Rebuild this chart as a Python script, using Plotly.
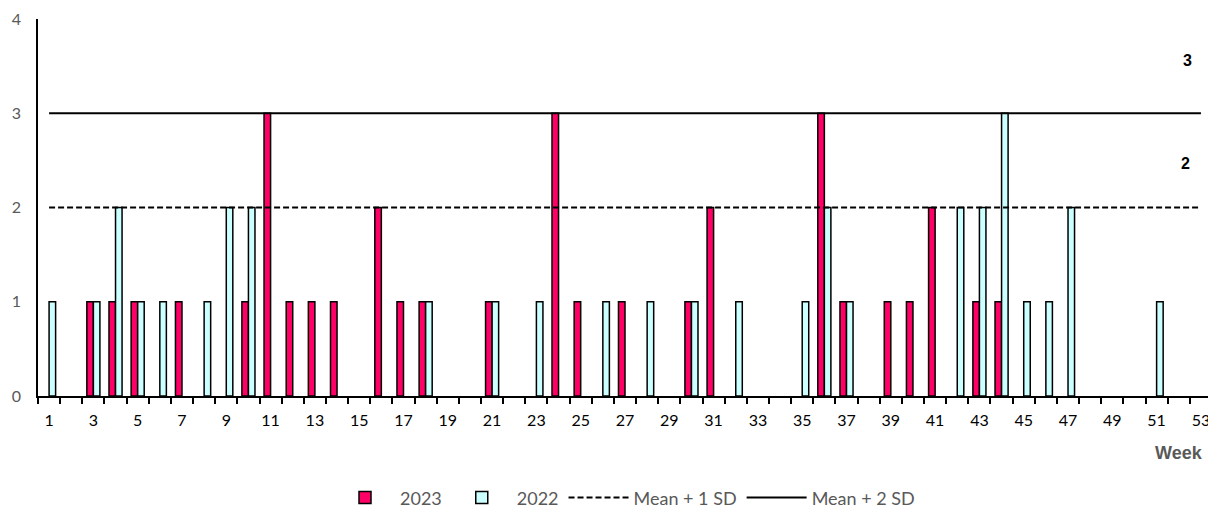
import plotly.graph_objects as go

weeks = list(range(1, 54))

cases_2023 = {3: 1, 4: 1, 5: 1, 7: 1, 10: 1, 11: 3, 12: 1, 13: 1, 14: 1, 16: 2, 17: 1,
              18: 1, 21: 1, 24: 3, 25: 1, 27: 1, 30: 1, 31: 2, 36: 3, 37: 1, 39: 1,
              40: 1, 41: 2, 43: 1, 44: 1}
cases_2022 = {1: 1, 3: 1, 4: 2, 5: 1, 6: 1, 8: 1, 9: 2, 10: 2, 18: 1, 21: 1, 23: 1,
              26: 1, 28: 1, 30: 1, 32: 1, 35: 1, 36: 2, 37: 1, 42: 2, 43: 2, 44: 3,
              45: 1, 46: 1, 47: 2, 51: 1}
values_2023 = [cases_2023.get(w) for w in weeks]
values_2022 = [cases_2022.get(w) for w in weeks]
mean_1sd = [2] * len(weeks)
mean_2sd = [3] * len(weeks)
tick_labels = [str(w) for w in range(1, 54, 2)]

FONT = "Lato"
GRAY = "#595959"

fig = go.Figure()
fig.add_trace(go.Bar(x=weeks, y=values_2023, name="2023",
                     marker=dict(color="#FF0066", line=dict(color="black", width=1.5))))
fig.add_trace(go.Bar(x=weeks, y=values_2022, name="2022",
                     marker=dict(color="#CCFFFF", line=dict(color="black", width=1.5))))
fig.add_trace(go.Scatter(x=weeks, y=mean_1sd, name="Mean + 1 SD", mode="lines",
                         line=dict(color="black", width=2, dash="6px,3px")))
fig.add_trace(go.Scatter(x=weeks, y=mean_2sd, name="Mean + 2 SD", mode="lines",
                         line=dict(color="black", width=2.2)))

fig.add_annotation(x=52.4, y=3.56, text="<b>3</b>", showarrow=False,
                   font=dict(family="Liberation Sans", size=16, color="black"))
fig.add_annotation(x=52.3, y=2.47, text="<b>2</b>", showarrow=False,
                   font=dict(family="Liberation Sans", size=16, color="black"))
fig.add_annotation(xref="paper", yref="paper", x=1.0, xshift=-7, y=-0.15,
                   xanchor="right", yanchor="middle", text="<b>Week</b>",
                   showarrow=False,
                   font=dict(family="Liberation Sans", size=18, color=GRAY))

fig.update_layout(
    width=1208, height=507,
    margin=dict(l=30, r=4, t=11, b=119, autoexpand=False),
    plot_bgcolor="white", paper_bgcolor="white",
    barmode="group", bargap=0.41, bargroupgap=0,
    font=dict(family=FONT, size=16, color=GRAY),
    showlegend=True,
    legend=dict(orientation="h", x=0.5, xanchor="center", y=-0.27, yanchor="middle",
                font=dict(family=FONT, size=18, color=GRAY), itemwidth=60,
                traceorder="normal"),
    xaxis=dict(
        range=[0.5, 53.5], showgrid=False, zeroline=False, automargin=False,
        showline=True, linecolor="black", linewidth=1.5,
        tickmode="array", tickvals=list(range(1, 54, 2)), ticktext=tick_labels,
        ticks="", ticklabelstandoff=9, ticklabeloverflow="allow",
        tickfont=dict(family=FONT, size=16, color="black"),
        minor=dict(ticks="outside", tickmode="linear", tick0=0.5, dtick=1,
                   ticklen=6, tickcolor="black", tickwidth=1.5, showgrid=False),
    ),
    yaxis=dict(
        range=[0, 4], showgrid=False, zeroline=False, automargin=False,
        showline=True, linecolor="black", linewidth=1.5,
        tickvals=[0, 1, 2, 3, 4], ticks="", ticklabelstandoff=12,
        ticklabeloverflow="allow",
        tickfont=dict(family=FONT, size=16, color=GRAY),
    ),
)

fig.write_html("out.html")
